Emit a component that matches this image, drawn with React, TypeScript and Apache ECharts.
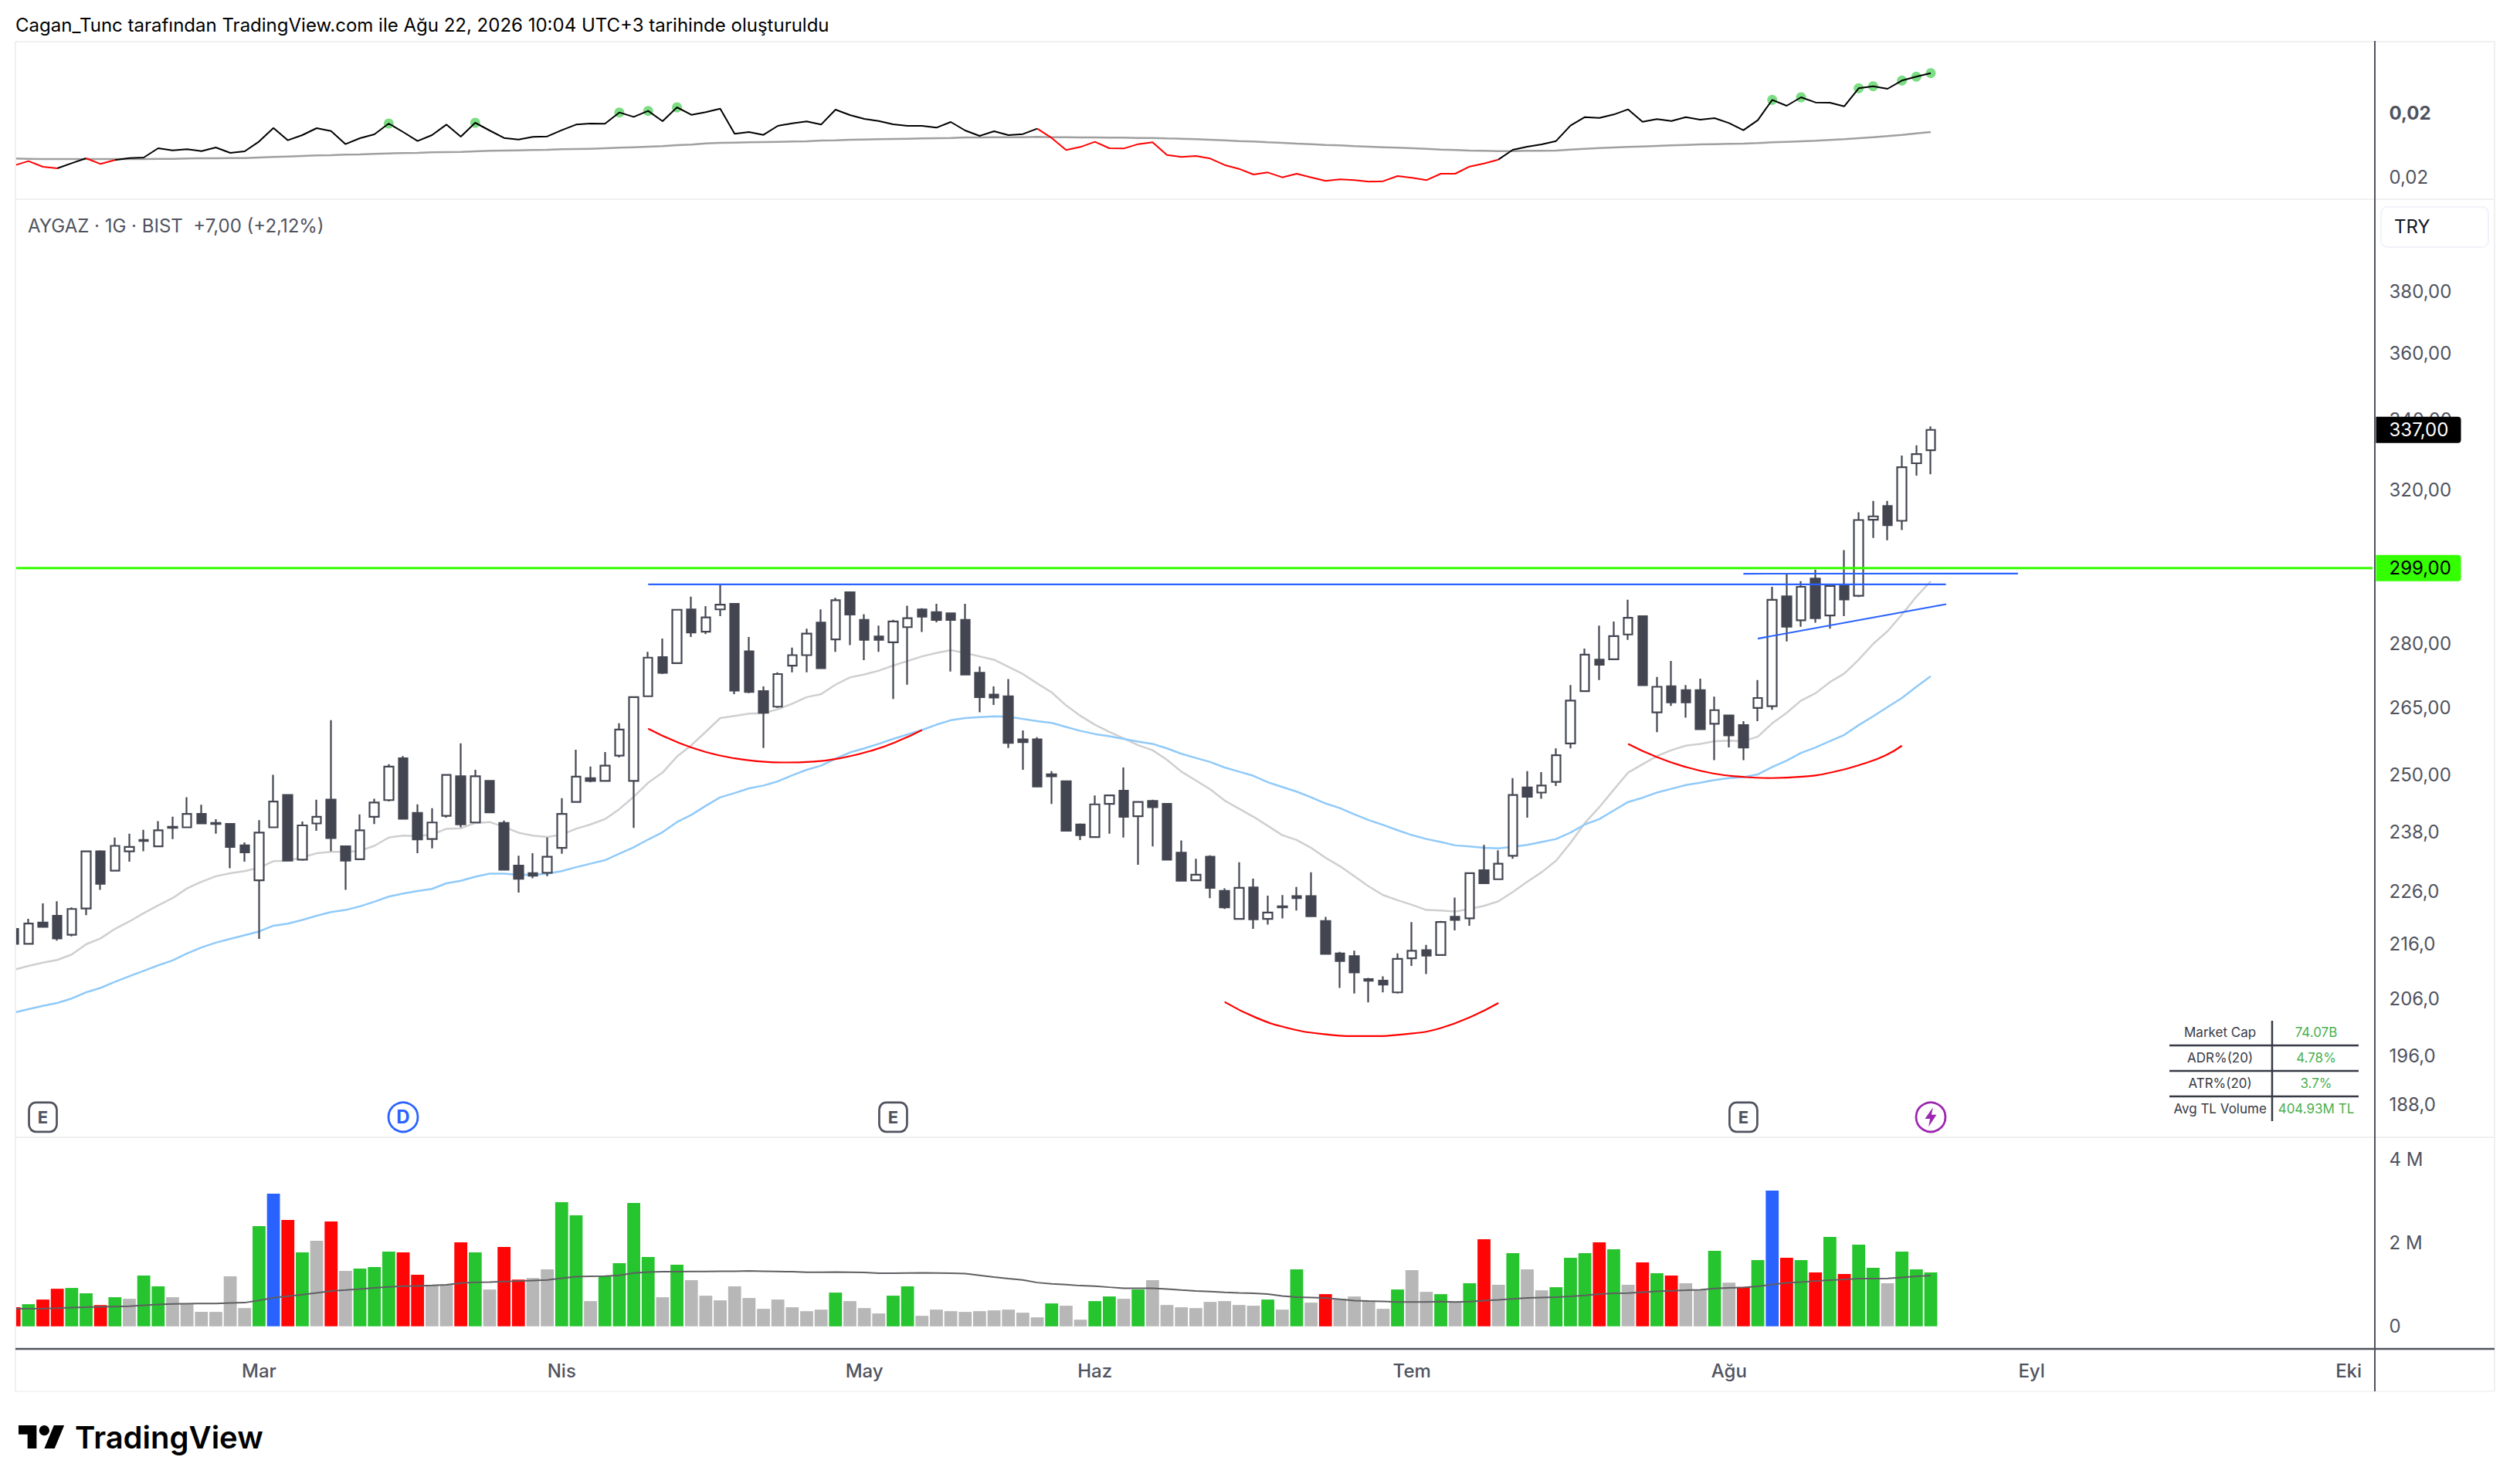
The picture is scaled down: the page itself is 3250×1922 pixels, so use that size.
import React, { useEffect, useRef } from "react";
import * as echarts from "echarts";

const TITLE = "Cagan_Tunc tarafından TradingView.com ile Ağu 22, 2026 10:04 UTC+3 tarihinde oluşturuldu";
const LEGEND = "AYGAZ · 1G · BIST  +7,00 (+2,12%)";
const CURRENCY = "TRY";

// [open, high, low, close]
const priceBars: number[][] = [
[218.8,219.5,215.6,216.0],[216.0,220.7,216.0,219.8],[220.0,223.7,219.2,219.2],[221.3,224.1,216.6,217.0],[217.7,222.9,217.4,222.6],
[222.7,234.0,221.4,234.0],[234.0,234.2,226.3,227.5],[230.1,236.8,230.1,235.1],[234.0,237.6,231.9,234.9],[236.3,238.4,234.0,236.1],
[235.0,240.2,235.0,238.3],[239.0,241.1,236.5,238.8],[238.9,245.2,238.9,241.7],[241.7,243.6,239.7,239.7],[239.8,240.6,237.6,239.6],
[239.6,239.6,230.6,234.9],[235.2,235.8,231.9,233.8],[228.2,240.4,216.9,237.8],[238.9,250.0,238.9,244.3],[245.7,245.7,232.1,232.1],
[232.3,240.1,232.1,239.3],[239.7,244.7,238.2,241.1],[244.7,262.1,234.0,236.7],[235.0,235.0,226.3,232.1],[232.4,241.6,232.4,238.3],
[241.1,244.9,239.6,244.1],[244.6,252.3,244.3,251.8],[253.6,254.1,240.7,240.7],[241.9,243.7,233.6,236.4],[236.5,242.9,234.6,239.9],
[241.3,250.0,240.9,250.0],[249.7,256.9,238.9,239.5],[239.9,251.1,239.9,249.7],[248.7,248.9,242.0,242.0],[239.8,240.3,230.3,230.3],
[231.1,233.1,225.8,228.5],[229.6,233.6,228.6,229.1],[229.7,236.8,229.0,232.9],[234.7,245.0,233.5,241.7],[244.2,255.5,244.2,249.6],
[249.3,251.8,248.4,248.7],[248.7,255.0,248.7,252.0],[254.2,261.4,253.8,260.0],[248.7,267.4,238.8,267.4],[267.6,278.1,267.6,276.7],
[276.8,281.3,272.8,273.1],[275.4,288.4,275.2,288.4],[288.5,291.7,281.7,282.8],[283.0,289.3,282.4,286.5],[288.5,294.9,286.8,289.7],
[289.9,289.9,268.1,268.9],[278.2,281.7,268.3,268.6],[268.8,269.9,255.9,263.8],[265.2,273.2,264.9,272.8],[274.8,279.1,273.2,277.3],
[277.3,283.7,273.2,282.5],[285.2,288.5,274.2,274.2],[281.1,291.4,278.1,290.8],[292.8,292.8,279.7,287.2],[285.9,287.3,276.1,281.0],
[281.8,284.5,278.1,281.0],[280.4,285.9,267.0,285.5],[284.1,289.4,270.3,286.3],[288.5,288.8,282.9,286.7],[287.8,289.9,285.3,285.9],
[287.5,287.5,273.4,285.9],[285.9,289.9,272.7,272.7],[273.1,274.6,263.9,267.4],[268.0,269.9,265.6,267.3],[267.6,271.6,255.9,257.0],
[257.8,259.8,251.1,257.2],[257.8,258.3,247.5,247.5],[250.1,250.8,243.8,249.7],[248.6,248.6,238.2,238.2],[239.5,239.7,236.3,237.3],
[236.9,245.6,236.9,243.7],[243.8,245.6,237.6,245.6],[246.6,251.6,236.8,241.1],[241.2,244.2,231.3,244.2],[244.4,244.7,235.0,243.1],
[243.8,244.0,232.3,232.3],[233.7,236.2,228.1,228.1],[228.2,232.5,228.2,229.3],[232.9,233.2,224.7,226.7],[226.1,226.6,222.6,222.9],
[220.7,231.8,220.7,226.7],[226.8,228.5,218.8,220.6],[220.7,225.2,219.6,221.9],[223.1,225.3,220.8,222.9],[225.1,226.9,222.3,224.7],
[225.1,229.8,221.2,221.2],[220.3,221.1,214.1,214.1],[214.2,214.5,207.9,212.8],[213.7,214.7,206.9,210.7],[209.5,209.7,205.3,209.2],
[209.2,210.0,207.1,208.5],[207.1,214.2,206.9,213.2],[213.3,220.1,211.9,214.7],[214.8,215.8,210.4,213.8],[213.9,220.3,213.9,220.1],
[221.1,224.8,218.5,220.5],[220.8,229.7,219.4,229.6],[230.2,235.3,227.6,227.6],[228.4,234.2,228.4,231.5],[233.1,249.3,232.5,245.7],
[247.3,250.8,240.9,245.3],[246.2,250.6,244.9,247.7],[248.5,255.8,247.6,254.3],[256.9,270.2,255.8,266.6],[268.8,278.9,268.8,277.4],
[276.2,284.5,271.4,275.0],[276.3,285.5,276.3,281.9],[282.3,290.9,281.0,286.4],[286.8,286.8,270.2,270.2],[263.9,272.1,259.4,269.8],
[269.9,275.9,265.4,266.2],[269.0,270.2,262.7,266.2],[269.0,271.7,260.1,260.1],[261.3,267.5,253.2,264.4],[263.2,263.3,256.0,258.7],
[261.0,261.9,253.2,256.0],[264.9,271.4,261.9,267.2],[265.3,294.2,264.5,290.9],[291.8,297.6,280.6,284.2],[285.8,295.6,284.2,294.2],
[296.3,298.6,285.2,286.3],[287.0,294.7,283.7,294.4],[294.6,303.7,286.8,291.0],[291.9,313.8,291.6,311.7],[311.8,316.9,306.9,312.7],
[315.5,316.9,306.3,310.3],[311.5,329.6,309.0,326.3],[327.4,332.5,323.9,330.0],[331.1,338.0,324.3,337.0],
];

const maFast = [
211.2,211.9,212.5,213.0,214.0,215.9,217.0,218.8,220.2,221.8,223.3,224.7,226.6,227.9,229.0,229.6,230.0,230.7,232.0,232.1,
232.8,233.6,233.9,233.9,234.1,235.1,236.8,237.2,237.1,237.4,238.6,238.7,239.8,240.0,239.0,237.8,237.2,236.9,237.4,238.6,
239.5,240.6,242.7,245.3,248.3,250.5,254.0,256.5,259.5,262.6,263.1,263.6,263.7,264.6,265.9,267.4,268.1,270.3,272.0,272.7,
273.6,274.8,275.9,277.0,277.8,278.5,277.8,277.0,276.2,274.5,272.8,270.6,268.5,265.5,263.1,261.1,259.5,258.0,256.5,255.4,
253.3,250.7,248.8,246.9,244.5,242.8,241.1,239.2,237.3,236.3,234.7,232.7,231.0,229.0,227.0,225.3,224.3,223.4,222.4,222.3,
222.1,222.6,223.2,224.1,225.9,227.9,229.8,232.1,235.7,239.8,243.1,246.8,250.5,252.3,254.1,255.4,256.4,256.8,257.4,257.5,
257.4,258.4,261.4,263.8,266.6,268.3,270.9,272.9,276.2,280.0,283.1,287.2,291.7,295.6,
];

const maSlow = [
203.5,204.1,204.7,205.2,206.0,207.1,207.9,209.0,210.0,211.0,212.0,212.9,214.2,215.3,216.2,216.9,217.6,218.3,219.4,219.8,
220.5,221.3,222.0,222.4,223.1,224.0,225.0,225.6,226.1,226.5,227.6,228.1,228.9,229.5,229.5,229.3,229.3,229.5,230.0,230.8,
231.5,232.2,233.5,234.8,236.4,237.9,240.0,241.5,243.4,245.2,246.1,247.1,247.7,248.6,249.9,251.1,252.0,253.5,254.9,255.8,
256.8,257.9,258.9,259.9,261.1,262.1,262.6,262.8,263.0,262.9,262.4,261.9,261.5,260.6,259.7,259.0,258.5,257.9,257.3,256.8,
255.8,254.6,253.7,252.8,251.6,250.7,249.8,248.4,247.4,246.4,245.2,243.9,242.9,241.6,240.4,239.4,238.3,237.3,236.5,235.9,
235.2,235.0,234.7,234.6,234.9,235.3,235.9,236.5,237.8,239.5,240.6,242.4,244.2,245.1,246.2,247.0,247.8,248.3,248.9,249.3,
249.5,250.1,251.7,253.1,254.8,256.0,257.4,258.8,261.0,263.0,265.1,267.2,269.8,272.3,
];

// Indicator pane, in units of 0.00001
const rsLine = [
2044,2061,2039,2033,2053,2072,2050,2065,2073,2075,2111,2103,2107,2100,2114,2093,2099,2137,2190,2142,
2162,2189,2178,2127,2150,2165,2207,2174,2139,2162,2203,2156,2210,2180,2151,2145,2155,2157,2181,2203,
2207,2206,2250,2233,2256,2216,2270,2241,2251,2265,2167,2174,2163,2198,2208,2215,2203,2261,2240,2225,
2217,2204,2198,2198,2191,2213,2180,2159,2177,2162,2166,2187,2151,2104,2116,2136,2111,2110,2127,2134,
2085,2077,2081,2071,2046,2031,2009,2017,1998,2012,1998,1984,1990,1987,1981,1983,2003,1996,1987,2012,
2012,2040,2052,2067,2105,2117,2126,2139,2199,2232,2229,2242,2262,2214,2224,2217,2232,2222,2228,2209,
2181,2220,2299,2276,2309,2289,2288,2274,2344,2352,2342,2374,2389,2403,
];
const rsAverage = [
2071,2070,2069,2069,2069,2069,2069,2069,2069,2069,2070,2070,2071,2072,2072,2073,2073,2075,2077,2079,
2081,2083,2084,2086,2087,2089,2091,2092,2093,2095,2096,2097,2099,2101,2102,2103,2104,2105,2107,2108,
2109,2111,2113,2115,2117,2119,2123,2125,2130,2132,2133,2134,2135,2136,2137,2138,2141,2142,2144,2145,
2146,2147,2148,2149,2150,2151,2153,2153,2154,2154,2154,2155,2154,2154,2153,2153,2152,2152,2151,2151,
2149,2148,2146,2144,2142,2139,2137,2134,2132,2129,2127,2124,2122,2119,2117,2115,2113,2111,2109,2106,
2104,2102,2101,2100,2100,2101,2101,2102,2106,2109,2112,2114,2116,2118,2120,2122,2124,2126,2127,2128,
2129,2131,2134,2136,2138,2140,2143,2146,2150,2154,2158,2163,2169,2174,
];
const rsBelowRanges = [[0, 3], [5, 7], [71, 103]];
const rsHighlights = [26, 32, 42, 44, 46, 122, 124, 128, 129, 131, 132, 133];

// Volume in millions, and tone per bar: g up, r down, n quiet, b peak
const volume = [
.457,.531,.642,.901,.920,.790,.512,.698,.660,1.216,.957,.698,.531,.346,.346,1.198,.438,2.401,3.179,2.549,
1.772,2.049,2.512,1.327,1.383,1.420,1.790,1.772,1.235,.975,.994,2.012,1.772,.883,1.901,1.123,1.160,1.364,2.975,2.660,
.605,1.21,1.512,2.957,1.660,.698,1.475,1.105,.735,.623,.957,.679,.420,.642,.457,.364,.401,.809,.605,.438,
.309,.735,.957,.253,.401,.364,.346,.364,.383,.401,.327,.216,.549,.494,.160,.605,.716,.660,.883,1.105,
.512,.457,.438,.586,.605,.512,.494,.642,.401,1.364,.568,.772,.660,.716,.605,.420,.883,1.346,.827,.772,
.586,1.031,2.086,.994,1.753,1.364,.864,.938,1.642,1.753,2.012,1.846,.994,1.531,1.272,1.216,1.031,.883,1.809,1.049,
.944,1.586,3.253,1.642,1.586,1.290,2.142,1.253,1.957,1.401,1.031,1.790,1.364,1.290,
];
const volumeTone = (
"rgrrggrgng" + "gnnnnnngbr" + "gnrngggrrn" + "nrgnrrnngg" + "nggggngnnn" + "nnnnnnngnn" + "nggnnnnnnn" +
"nngnnggngn" + "nnnnnnngng" + "nrnnnngnng" + "ngrngnnggg" + "rgnrgrnngn" + "rgbrgrgrgg" + "nggg").split("");
const volumeAverage = [
.420,.420,.426,.438,.451,.457,.469,.475,.481,.506,.525,.537,.543,.546,.549,.562,.568,.623,.685,.722,
.759,.802,.846,.870,.895,.920,.944,.963,.969,.981,.994,1.037,1.056,1.062,1.074,1.086,1.099,1.111,1.154,1.191,
1.198,1.204,1.222,1.278,1.302,1.309,1.309,1.315,1.315,1.321,1.321,1.327,1.321,1.315,1.309,1.296,1.296,1.302,1.296,1.290,
1.272,1.272,1.278,1.284,1.278,1.272,1.265,1.222,1.179,1.142,1.111,1.049,1.019,1.000,.975,.963,.938,.914,.914,.914,
.895,.870,.846,.833,.815,.802,.790,.772,.728,.698,.691,.679,.648,.617,.605,.599,.586,.586,.586,.593,
.586,.593,.617,.636,.660,.679,.691,.698,.716,.741,.772,.790,.796,.821,.840,.852,.864,.877,.907,.920,
.932,.957,1.006,1.043,1.062,1.086,1.105,1.123,1.142,1.142,1.148,1.173,1.198,1.216,
];

const priceTickLabels = ["380,00","360,00","340,00","320,00","280,00","265,00","250,00","238,0","226,0","216,0","206,0","196,0","188,0"];
const volumeTicks = [0, 2, 4];
const rsTickValues = [2249, 2000];
const monthLabels: [number, string][] = [[17,"Mar"],[38,"Nis"],[59,"May"],[75,"Haz"],[97,"Tem"],[119,"Ağu"],[140,"Eyl"],[162,"Eki"]];

const LAST_CLOSE = 337;
const LEVEL = 299;

const arcSpring: number[][] = [[44,260.2],[46,257.2],[48,255.0],[50,253.6],[51.9,252.9],[53.5,252.7],[55.5,252.9],[57.6,253.8],[59.6,255.4],[61.4,257.5],[63,259.9]];
const arcSummer: number[][] = [[84,205.4],[86.2,202.6],[88.4,200.8],[90.7,199.8],[93.7,199.4],[96.8,199.8],[99,200.8],[101.2,202.9],[103,205.2]];
const arcAugust: number[][] = [[112,256.8],[113.9,254.0],[115.9,251.8],[117.9,250.3],[119.8,249.6],[121.9,249.3],[124.1,249.6],[126.2,250.6],[128.4,252.5],[129.9,254.3],[131,256.4]];
const trendTop: number[][] = [[44,294.8],[134.05,294.8]];
const trendUpper: number[][] = [[120,297.55],[139.05,297.6]];
const trendRising: number[][] = [[121,281.3],[134.07,289.8]];

const earningsBars = [2, 61, 120];
const dividendBars = [27];
const newsBars = [133];

const tableLabels = ["Market Cap", "ADR%(20)", "ATR%(20)", "Avg TL Volume"];
const tableValues = ["74.07B", "4.78%", "3.7%", "404.93M TL"];

const FONT = "Inter, Roboto, sans-serif";
const AXIS_TEXT = "#50535e";
const CANDLE = "#434651";
const BAR_COLORS: Record<string, string> = { g: "#26c42e", r: "#ff0505", n: "#b7b7b7", b: "#2962ff" };
const TOTAL_SLOTS = 164;
const GRID_LEFT = 8.87;
const GRID_WIDTH = 3060.24;
const PANE_X0 = 20, PANE_X1 = 3230, AXIS_X = 3075;
const LABEL_SLOT = 164.78, TAG_SLOT = 163.87, LINE_END_SLOT = 163.8;
const ICON_PRICE = 185.9;

echarts.graphic.registerShape("tvlogo", echarts.graphic.extendPath(
  "M14 22H7V11H0V4h14v18zM28 22h-8l7.5-18h8L28 22zM24 8a4 4 0 1 1-8 0a4 4 0 1 1 8 0z", {}) as any);

const hLine = (x1: number, x2: number, y: number, stroke: string, lineWidth: number, z = 60) =>
  ({ type: "line", z, silent: true, shape: { x1, y1: y, x2, y2: y }, style: { stroke, lineWidth } });
const vLine = (x: number, y1: number, y2: number, stroke: string, lineWidth: number, z = 60) =>
  ({ type: "line", z, silent: true, shape: { x1: x, y1, x2: x, y2 }, style: { stroke, lineWidth } });
const txt = (x: number, y: number, text: string, fill: string, fontSize: number, fontWeight: any = 400, align = "left") =>
  ({ type: "text", z: 70, silent: true, style: { x, y, text, fill, fontSize, fontWeight, fontFamily: FONT, align, verticalAlign: "middle" } });

const axisTextSeries = (xi: number, yi: number, values: number[], fmt: (v: number) => string, weights?: (v: number) => number) => ({
  type: "scatter", xAxisIndex: xi, yAxisIndex: yi, clip: false, silent: true, z: 5,
  symbolSize: 1, itemStyle: { color: "transparent", opacity: 1 },
  data: values.map((v) => ({
    value: [LABEL_SLOT, v],
    label: { fontWeight: weights ? weights(v) : 400 },
  })),
  label: { show: true, position: "right", distance: 0, color: AXIS_TEXT, fontFamily: FONT, fontSize: 24,
    formatter: (p: any) => fmt(p.value[1]) },
});

const priceTag = (value: number, bg: string, fg: string) => ({
  type: "scatter", xAxisIndex: 2, yAxisIndex: 1, clip: false, silent: true, z: 10,
  symbolSize: 1, itemStyle: { color: "transparent", opacity: 1 },
  data: [[TAG_SLOT, value]],
  label: { show: true, position: "right", distance: 0, color: fg, backgroundColor: bg, fontFamily: FONT, fontSize: 24,
    width: 80, height: 26, lineHeight: 26, padding: [4, 13, 4, 17], borderRadius: [0, 4, 4, 0],
    formatter: (p: any) => p.value[1].toFixed(2).replace(".", ",") },
});

const drawing = (data: number[][], color: string, smooth = false, width = 2.2, clip = true) => ({
  type: "line", xAxisIndex: 2, yAxisIndex: 1, data, symbol: "none", smooth, z: 4, clip, silent: true,
  lineStyle: { color, width },
});

const marker = (bars: number[], symbol: string, symbolSize: any, text: string, color: string, fontSize: number, fill = "#fff", borderWidth = 2.8) => ({
  type: "scatter", xAxisIndex: 2, yAxisIndex: 1, z: 6, silent: true, symbol, symbolSize,
  data: bars.map((n) => [n, ICON_PRICE]),
  itemStyle: { color: fill, borderColor: color, borderWidth, opacity: 1 },
  label: text ? { show: true, position: "inside", formatter: text, color, fontFamily: FONT, fontSize, fontWeight: 700 } : { show: false },
});

function buildOption() {
  const idx = rsLine.map((_, i) => i);
  const isRed = (i: number) => rsBelowRanges.some(([a, b]) => i >= a && i <= b);
  const isBlack = (i: number) => !rsBelowRanges.some(([a, b]) => i > a && i < b) &&
    !(i === 0) && !rsBelowRanges.some(([a, b]) => a === 0 && i <= b - 1);
  const cats = Array.from({ length: TOTAL_SLOTS }, (_, i) => String(i));
  const monthCats = cats.map((_, i) => (monthLabels.find((m) => m[0] === i) || [0, ""])[1] as string);
  const valueX = (gridIndex: number) => ({ type: "value", gridIndex, min: -0.5, max: TOTAL_SLOTS - 0.5, show: false });
  const grid = (top: number, height: number) => ({ left: GRID_LEFT, width: GRID_WIDTH, top, height, containLabel: false, show: false });

  const graphics: any[] = [
    { type: "rect", z: 50, silent: true, shape: { x: 0, y: 40, width: PANE_X0 - 1, height: 1780 }, style: { fill: "#fff" } },
    hLine(PANE_X0, PANE_X1, 54, "#f0f0f0", 2),
    hLine(PANE_X0, PANE_X1, 258, "#f0f0f0", 2),
    hLine(PANE_X0, PANE_X1, 1473, "#f0f0f0", 2),
    hLine(PANE_X0, PANE_X1, 1802, "#f4f4f4", 2),
    vLine(PANE_X0, 53, 1802, "#f0f0f0", 2),
    vLine(PANE_X1, 53, 1802, "#f0f0f0", 2),
    hLine(PANE_X0, PANE_X1, 1747, "#50535e", 2.5, 61),
    vLine(AXIS_X, 53, 1802, "#50535e", 2, 61),
    txt(20, 32, TITLE, "#000", 24),
    txt(36, 292, LEGEND, "#50535e", 24),
    { type: "rect", z: 60, silent: true, shape: { x: 3083, y: 268, width: 139, height: 52, r: 8 }, style: { fill: "#fff", stroke: "#f0f3fa", lineWidth: 2 } },
    txt(3100, 293, CURRENCY, "#131722", 24, 400),
    { type: "tvlogo", z: 70, silent: true, x: 24, y: 1839.3, scaleX: 1.667, scaleY: 1.667, style: { fill: "#000" } },
    { type: "text", z: 70, silent: true, style: { x: 97, y: 1861, text: "TradingView", fill: "#000", fontSize: 40, fontWeight: 600, fontFamily: FONT, align: "left", verticalAlign: "middle" } },
    hLine(2809, 3054, 1354, "#363a45", 2.5),
    hLine(2809, 3054, 1387, "#363a45", 2.5),
    hLine(2809, 3054, 1420, "#363a45", 2.5),
    vLine(2942, 1322, 1452, "#363a45", 2.5),
  ];
  tableLabels.forEach((t, i) => {
    graphics.push(txt(2874.6, 1337 + i * 33, t, "#363a45", 17, 400, "center"));
    graphics.push(txt(2999, 1337 + i * 33, tableValues[i], "#4caf50", 17, 400, "center"));
  });

  return {
    animation: false,
    backgroundColor: "#fff",
    textStyle: { fontFamily: FONT },
    grid: [grid(53, 205), grid(259, 1213), grid(1473, 274)],
    xAxis: [
      valueX(0),
      { type: "category", gridIndex: 1, data: cats, show: false },
      valueX(1),
      {
        type: "category", gridIndex: 2, data: monthCats, boundaryGap: true,
        axisLine: { show: false }, axisTick: { show: false }, splitLine: { show: false },
        axisLabel: { show: true, interval: 0, color: AXIS_TEXT, fontFamily: FONT, fontSize: 24, fontWeight: 500, margin: 16 },
      },
      valueX(2),
    ],
    yAxis: [
      { type: "value", gridIndex: 0, min: 1913, max: 2528, show: false, scale: true },
      { type: "log", gridIndex: 1, min: 182.8, max: 411.2, show: false },
      { type: "value", gridIndex: 2, min: -0.54, max: 4.53, show: false },
    ],
    series: [
      {
        type: "line", xAxisIndex: 0, yAxisIndex: 0, symbol: "none", z: 2, silent: true,
        data: idx.map((i) => [i, rsAverage[i]]), lineStyle: { color: "#a0a0a0", width: 2.5 },
      },
      {
        type: "scatter", xAxisIndex: 0, yAxisIndex: 0, z: 2, silent: true, symbolSize: 13,
        data: rsHighlights.map((i) => [i, rsLine[i]]), itemStyle: { color: "#7ddd84", opacity: 1 },
      },
      {
        type: "line", xAxisIndex: 0, yAxisIndex: 0, symbol: "none", z: 3, silent: true,
        data: idx.map((i) => [i, isBlack(i) ? rsLine[i] : null]), connectNulls: false,
        lineStyle: { color: "#000", width: 2 },
      },
      {
        type: "line", xAxisIndex: 0, yAxisIndex: 0, symbol: "none", z: 3, silent: true,
        data: idx.map((i) => [i, isRed(i) ? rsLine[i] : null]), connectNulls: false,
        lineStyle: { color: "#ff0000", width: 2 },
      },
      axisTextSeries(0, 0, rsTickValues, () => "0,02", (v) => (v === rsTickValues[0] ? 700 : 400)),

      {
        type: "line", xAxisIndex: 1, yAxisIndex: 1, data: maFast, symbol: "none", z: 1, silent: true,
        lineStyle: { color: "#cfcfcf", width: 2.5 },
      },
      {
        type: "line", xAxisIndex: 1, yAxisIndex: 1, data: maSlow, symbol: "none", z: 1, silent: true,
        lineStyle: { color: "#90caf9", width: 2.5 },
      },
      {
        type: "candlestick", xAxisIndex: 1, yAxisIndex: 1, z: 3, barWidth: 12, silent: true,
        data: priceBars.map(([o, h, l, c]) => [o, c, l, h]),
        itemStyle: { color: "#ffffff", color0: CANDLE, borderColor: CANDLE, borderColor0: CANDLE, borderWidth: 2.2 },
      },
      drawing(arcSpring, "#ff0000", true),
      drawing(arcSummer, "#ff0000", true),
      drawing(arcAugust, "#ff0000", true),
      drawing(trendTop, "#2962ff"),
      drawing(trendUpper, "#2962ff"),
      drawing(trendRising, "#2962ff"),
      drawing([[-0.5, LEVEL], [LINE_END_SLOT, LEVEL]], "#33ff00", false, 3, false),
      axisTextSeries(2, 1, priceTickLabels.map((s) => parseFloat(s.replace(",", "."))),
        (v) => priceTickLabels.find((s) => parseFloat(s.replace(",", ".")) === v) as string),
      priceTag(LAST_CLOSE, "#000000", "#ffffff"),
      priceTag(LEVEL, "#33ff00", "#000000"),
      marker(earningsBars, "roundRect", [36, 38], "E", "#50535e", 22),
      marker(dividendBars, "circle", [38, 38], "D", "#2962ff", 24),
      marker(newsBars, "circle", [38, 38], "", "#9c27b0", 20),
      marker(newsBars, "path://M13 0 L2 14 L9 14 L7 24 L18 9 L11 9 Z", [15, 25], "", "#9c27b0", 20, "#9c27b0", 0),

      {
        type: "bar", xAxisIndex: 3, yAxisIndex: 2, barWidth: 16.8, z: 2, silent: true,
        data: volume.map((v, i) => ({ value: v, itemStyle: { color: BAR_COLORS[volumeTone[i]] } })),
      },
      {
        type: "line", xAxisIndex: 3, yAxisIndex: 2, data: volumeAverage, symbol: "none", z: 3, silent: true,
        lineStyle: { color: "#5f5f63", width: 2 },
      },
      axisTextSeries(4, 2, volumeTicks, (v) => (v === 0 ? "0" : `${v} M`)),
    ],
    graphic: { elements: graphics },
  };
}

export default function App() {
  const ref = useRef<HTMLDivElement>(null);
  useEffect(() => {
    const chart = echarts.init(ref.current as HTMLDivElement, undefined, { renderer: "svg" });
    chart.setOption(buildOption() as any);
    return () => chart.dispose();
  }, []);
  return <div ref={ref} style={{ position: "fixed", left: 0, top: 0, width: 3250, height: 1922, background: "#fff" }} />;
}
